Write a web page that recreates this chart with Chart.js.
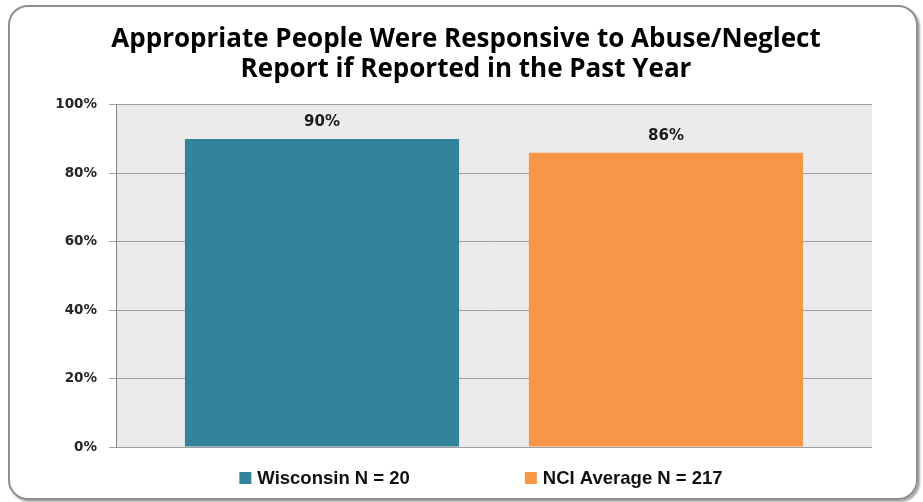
<!DOCTYPE html>
<html>
<head>
<meta charset="utf-8">
<script src="https://cdn.jsdelivr.net/npm/chart.js@4"></script>
<style>
  body { margin: 0; background: #fff; }
  #wrap { position: relative; width: 923px; height: 502px; overflow: hidden; }
  #frame {
    position: absolute; left: 8px; top: 5px; width: 910px; height: 495px;
    box-sizing: border-box; border: 2px solid #8d8d8d; border-radius: 20px;
    box-shadow: 2px 2px 2px rgba(0,0,0,0.35);
  }
  #myChart { position: absolute; left: 0; top: 0; }
</style>
</head>
<body>
<div id="wrap">
  <div id="frame"></div>
  <canvas id="myChart" width="923" height="502"></canvas>
</div>
<script>
"use strict";

// chart data
const categories = ["Wisconsin", "NCI Average"];
const values = [90, 86];
const legendLabels = ["Wisconsin N = 20", "NCI Average N = 217"];
const barColors = ["#31849B", "#F79646"];
const titleLines = ["Appropriate People Were Responsive to Abuse/Neglect", "Report if Reported in the Past Year"];
const yTicks = [0, 20, 40, 60, 80, 100];

// gray plot background
const plotBg = {
  id: "plotBg",
  beforeDraw(chart) {
    const a = chart.chartArea;
    const ctx = chart.ctx;
    ctx.save();
    ctx.fillStyle = "#EBEBEB";
    ctx.fillRect(a.left, a.top, a.right - a.left, a.bottom - a.top);
    ctx.restore();
  }
};

// percent labels above the bars
const valueLabels = {
  id: "valueLabels",
  afterDatasetsDraw(chart) {
    const ctx = chart.ctx;
    ctx.save();
    ctx.font = "bold 15px 'DejaVu Sans'";
    ctx.fillStyle = "#1a1a1a";
    ctx.textAlign = "center";
    ctx.textBaseline = "middle";
    chart.data.datasets.forEach((ds, i) => {
      const bar = chart.getDatasetMeta(i).data[0];
      ctx.fillText(ds.data[0] + "%", bar.x, bar.y - 17);
    });
    ctx.restore();
  }
};

// legend at the bottom, spaced like the original
const bottomLegend = {
  id: "bottomLegend",
  afterDraw(chart) {
    const ctx = chart.ctx;
    const box = 12, gapText = 6, gapItems = 115;
    ctx.save();
    ctx.font = "bold 18.5px 'Liberation Sans'";
    const widths = legendLabels.map(t => ctx.measureText(t).width);
    let total = 0;
    widths.forEach((w, i) => { total += box + gapText + w + (i > 0 ? gapItems : 0); });
    let x = 481 - total / 2;
    const y = 478;
    ctx.textBaseline = "middle";
    ctx.textAlign = "left";
    legendLabels.forEach((t, i) => {
      ctx.fillStyle = barColors[i];
      ctx.fillRect(x, y - box / 2, box, box);
      ctx.fillStyle = "#111";
      ctx.fillText(t, x + box + gapText, y + 1);
      x += box + gapText + widths[i] + gapItems;
    });
    ctx.restore();
  }
};

const datasets = categories.map((c, i) => ({
  label: legendLabels[i],
  data: [values[i]],
  backgroundColor: barColors[i],
  borderWidth: 0,
  barPercentage: 0.797,
  categoryPercentage: 0.91
}));

const config = {
  type: "bar",
  data: { labels: [""], datasets: datasets },
  options: {
    responsive: false,
    animation: false,
    devicePixelRatio: 1,
    layout: { padding: { left: 9, right: 0, top: 0, bottom: 55 } },
    plugins: {
      legend: { display: false },
      tooltip: { enabled: false },
      title: {
        display: true,
        text: titleLines,
        color: "#000",
        font: { family: "'Open Sans'", size: 26, weight: "bold", lineHeight: 1.17 },
        padding: { top: 24, bottom: 20 }
      }
    },
    scales: {
      x: { display: false },
      y: {
        min: 0,
        max: 100,
        afterFit: (scale) => { scale.width = 107; },
        afterBuildTicks: (scale) => { scale.ticks = yTicks.map(v => ({ value: v })); },
        ticks: {
          padding: 12,
          color: "#262626",
          font: { family: "'DejaVu Sans'", size: 13.5, weight: "bold" },
          callback: (v) => v + "%"
        },
        grid: { color: "#A0A0A0", lineWidth: 1, tickLength: 7 },
        border: { color: "#868686", width: 1 }
      },
      // empty right-hand space so the title centres like the original
      yRight: {
        position: "right",
        afterFit: (scale) => { scale.width = 51; },
        grid: { display: false },
        border: { display: false },
        ticks: { display: false }
      }
    }
  },
  plugins: [plotBg, valueLabels, bottomLegend]
};

const myChart = new Chart(document.getElementById("myChart"), config);
</script>
</body>
</html>
